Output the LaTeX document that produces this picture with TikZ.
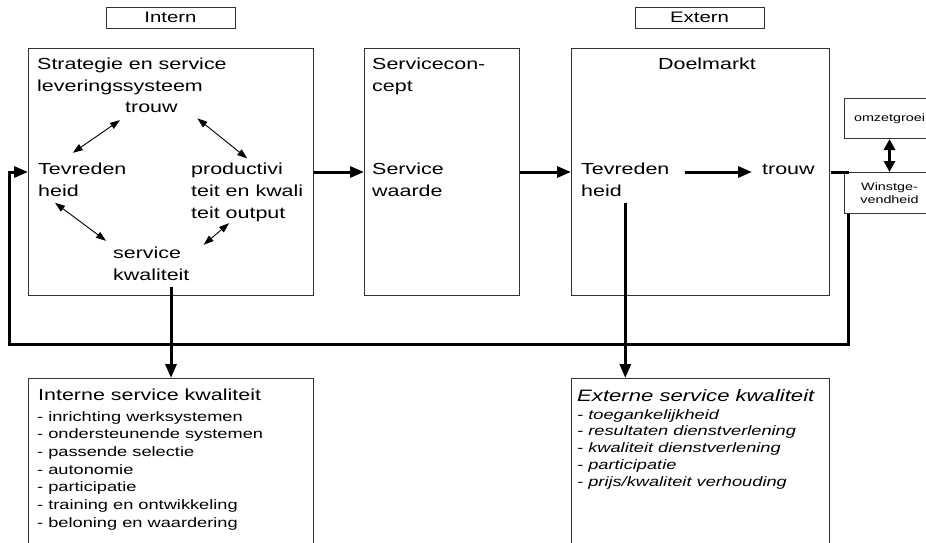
\documentclass[tikz,border=0pt]{standalone}
\usepackage{fontspec}
\setmainfont{Liberation Sans}[FakeStretch=1.34]
\usetikzlibrary{arrows.meta}
% several lines of text, baseline on the first line
\newcommand{\txtrows}[1]{\begin{tabular}[t]{@{}l@{}}#1\end{tabular}}
\tikzset{
  box/.style={draw=black!80, line width=1pt, inner sep=0pt, anchor=north west},
  hdr/.style={draw=black!80, line width=1pt, inner sep=0pt, minimum width=129pt,
    minimum height=21pt, font=\fontsize{15.2}{18}\selectfont},
  txt/.style={inner sep=0pt, anchor=base west, font=\fontsize{16}{22}\selectfont},
  smalltxt/.style={font=\fontsize{10.7}{12.5}\selectfont},
  flow/.style={line width=3pt, -{Triangle[length=14pt,width=11pt]}},
  link/.style={line width=0.9pt,
    {Triangle[length=10pt,width=7pt]}-{Triangle[length=10pt,width=7pt]}},
}
\begin{document}
\begin{tikzpicture}[x=1pt,y=-1pt]
\path[use as bounding box] (0,0) rectangle (926,542);
\clip (0,0) rectangle (926,542);

% column headers
\node[hdr] (intern) at (170.5,17.5) {Intern};
\node[hdr] (extern) at (699.5,17.5) {Extern};

% main blocks
\node[box, minimum width=285pt, minimum height=247pt] (strat) at (28,48) {};
\node[box, minimum width=155pt, minimum height=247pt] (concept) at (364,48) {};
\node[box, minimum width=258pt, minimum height=247pt] (doel) at (571,48) {};
\node[box, smalltxt, minimum width=90pt, minimum height=40pt] (omzet) at (844,98) {omzetgroei};
\node[box, smalltxt, align=center, minimum width=90pt, minimum height=41pt] (winst) at (844,172) {Winstge-\\vendheid};
\node[box, minimum width=285pt, minimum height=190pt] (isk) at (28,378) {};
\node[box, minimum width=258pt, minimum height=190pt] (esk) at (571,378) {};

% strategy block
\node[txt] (stratT) at (37,69) {\txtrows{Strategie en service\\leveringssysteem}};
\node[txt] (trouwL) at (125,112) {\txtrows{trouw}};
\node[txt] (tevL) at (38,174) {\txtrows{Tevreden\\heid}};
\node[txt] (prodL) at (191,174) {\txtrows{productivi\\teit en kwali\\teit output}};
\node[txt] (svcL) at (113,258) {\txtrows{service\\kwaliteit}};

% service concept block
\node[txt] (conceptT) at (372,69) {\txtrows{Servicecon-\\cept}};
\node[txt] (waarde) at (372,174) {\txtrows{Service\\waarde}};

% target market block
\node[txt, anchor=base] (doelT) at (707,69) {Doelmarkt};
\node[txt] (tevR) at (581,174) {\txtrows{Tevreden\\heid}};
\node[txt] (trouwR) at (762,174) {\txtrows{trouw}};

% internal service quality
\node[txt, font=\fontsize{16}{20}\selectfont] (iskT) at (38,400) {Interne service kwaliteit};
\node[txt, font=\fontsize{13.6}{17.7}\selectfont] (iskL) at (37,421) {\txtrows{%
- inrichting werksystemen\\
- ondersteunende systemen\\
- passende selectie\\
- autonomie\\
- participatie\\
- training en ontwikkeling\\
- beloning en waardering}};

% external service quality
\node[txt, font=\fontsize{16.5}{20}\selectfont\itshape] (eskT) at (577,401) {Externe service kwaliteit};
\node[txt, font=\fontsize{13.6}{16.9}\selectfont\itshape] (eskL) at (577,419) {\txtrows{%
- toegankelijkheid\\
- resultaten dienstverlening\\
- kwaliteit dienstverlening\\
- participatie\\
- prijs/kwaliteit verhouding}};

% cycle inside the strategy block
\draw[link] ([xshift=-5pt,yshift=-1.4pt]trouwL.south west) -- ([xshift=-9.5pt,yshift=5.6pt]tevL.north);
\draw[link] ([xshift=19.6pt,yshift=0.4pt]trouwL.south east) -- (prodL.north);
\draw[link] ([xshift=17pt]tevL.south west) -- ([xshift=-7pt,yshift=1.6pt]svcL.north west);
\draw[link] ([xshift=38pt,yshift=1.6pt]prodL.south west) -- ([xshift=14pt,yshift=-2.4pt]svcL.north east);

% main flow
\draw[flow] (strat.east) -- (concept.west);
\draw[flow] (concept.east) -- (doel.west);
\draw[flow, shorten <=15pt, shorten >=10pt] (tevR.east |- doel.east) -- (trouwR.west |- doel.east);
\draw[line width=3pt, shorten <=16pt] (trouwR.east |- winst.north west) -- ([xshift=5pt]winst.north west);
\draw[line width=3pt, {Triangle[length=11pt,width=11pt]}-{Triangle[length=11pt,width=11pt]}] (omzet.south) -- (winst.north);

% feedback loop back to the strategy block
\coordinate (loopcorner) at (9,344);
\draw[flow] ([xshift=4pt]winst.south west) |- (loopcorner) |- (strat.west);

% down to the quality lists
\draw[flow] (isk.north |- svcL.south) -- (isk.north);
\draw[flow] (tevR.south) -- (tevR.south |- esk.north);
\end{tikzpicture}
\end{document}
